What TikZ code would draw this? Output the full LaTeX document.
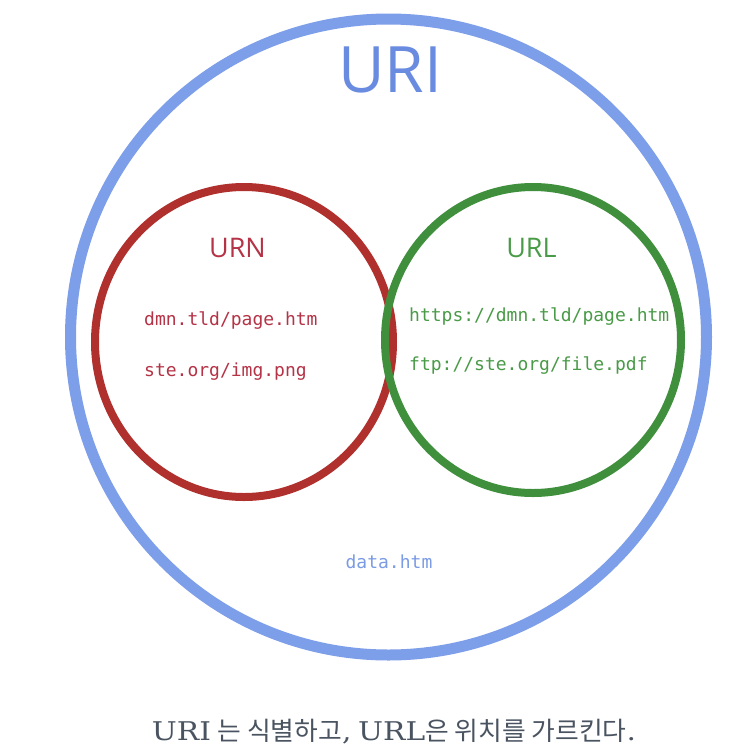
\documentclass[tikz,border=0pt]{standalone}
\usepackage{fontspec}
\setmainfont{Open Sans}
\newfontfamily\codefont{DejaVu Sans Mono}
\newfontfamily\capserif{DejaVu Serif}
\newfontfamily\krfont{Noto Sans CJK KR}
\definecolor{uriblue}{HTML}{7D9EE8}
\definecolor{uritext}{HTML}{6A8CE0}
\definecolor{urnline}{HTML}{B0302D}
\definecolor{urntext}{HTML}{B53347}
\definecolor{urlline}{HTML}{3F8F3C}
\definecolor{urltext}{HTML}{4A9B48}
\definecolor{datablue}{HTML}{7B9BE5}
\definecolor{captext}{HTML}{4A5461}
\tikzset{
  setlabel/.style={anchor=base, inner sep=0pt, font=\fontsize{27}{27}\selectfont},
  codetext/.style={anchor=base west, inner sep=0pt, font=\codefont\fontsize{18}{18}\selectfont},
}
\begin{document}
\begin{tikzpicture}[x=1pt,y=-1pt]
\useasboundingbox (0,0) rectangle (748,756);
\fill[white] (0,0) rectangle (748,756);
\coordinate (uric) at (388.5,337);
\coordinate (urnc) at (244,342);
\coordinate (urlc) at (533,340);
\draw[uriblue, line width=11pt] (uric) circle [radius=318pt];
\draw[urnline, line width=8pt] (urnc) ellipse [x radius=149pt, y radius=155pt];
\draw[urlline, line width=8pt] (urlc) ellipse [x radius=148pt, y radius=153pt];
\node[anchor=base, inner sep=0pt, text=uritext, font=\fontsize{64}{64}\selectfont] (uri) at (390,92) {URI};
\node[setlabel, text=urntext] (urn) at (237.5,257) {URN};
\node[setlabel, text=urltext] (url) at (531.5,257) {URL};
\node[codetext, text=urntext] (urn1) at (144,325) {dmn.tld/page.htm};
\node[codetext, text=urntext] (urn2) at (144,376) {ste.org/img.png};
\node[codetext, text=urltext] (url1) at (409,321.5) {https://dmn.tld/page.htm};
\node[codetext, text=urltext] (url2) at (409,370) {ftp://ste.org/file.pdf};
\node[codetext, anchor=base, text=datablue] (data) at (389,568) {data.htm};
\node[anchor=base, inner sep=0pt, text=captext] (cap) at (394,740) {\resizebox{484pt}{!}{\fontsize{24}{24}\selectfont\scalebox{1.15}[1]{\capserif URI} {\krfont 는 식별하고}\scalebox{1.15}[1]{\capserif ,} \scalebox{1.15}[1]{\capserif URL}{\krfont 은 위치를 가르킨다}\scalebox{1.15}[1]{\capserif .}}};
\end{tikzpicture}
\end{document}
